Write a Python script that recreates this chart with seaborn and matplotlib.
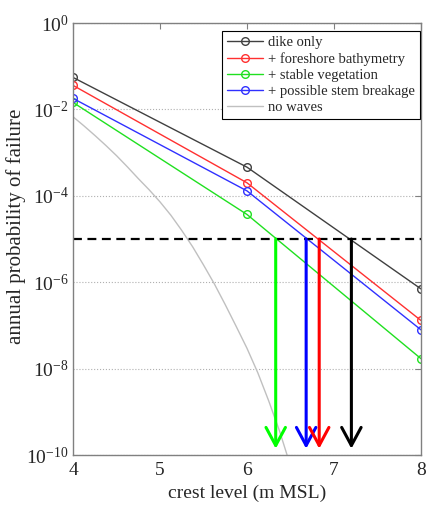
import numpy as np
import pandas as pd
import matplotlib
matplotlib.use("Agg")
import matplotlib.pyplot as plt
import seaborn as sns

# data
crest = [4, 6, 8]
dike_only = [5.5e-2, 4.6e-4, 7.0e-7]
foreshore = [3.6e-2, 2.0e-4, 1.3e-7]
stem_break = [1.8e-2, 1.3e-4, 7.9e-8]
stable_veg = [1.45e-2, 3.7e-5, 1.7e-8]

nowave_x = [4.0, 4.125, 4.25, 4.375, 4.5, 4.625, 4.75, 4.875, 5.0, 5.125,
            5.25, 5.375, 5.5, 5.625, 5.75, 5.875, 6.0, 6.125, 6.25, 6.375,
            6.5]
nowave_p = [6.76e-3, 4.17e-3, 2.51e-3, 1.48e-3, 8.51e-4, 4.68e-4, 2.51e-4,
            1.38e-4, 7.24e-5, 3.55e-5, 1.58e-5, 6.61e-6, 2.51e-6, 9.12e-7,
            3.02e-7, 9.55e-8, 2.95e-8, 7.94e-9, 1.78e-9, 3.55e-10, 5.6e-11]

target_p = 1e-5
arrow_x = [6.33, 6.68, 6.83, 7.20]
arrow_colors = ["#00ff00", "#0000ff", "#ff0000", "#000000"]

sns.set_style("white")
plt.rcParams["font.family"] = ["Liberation Serif", "DejaVu Serif"]
plt.rcParams["mathtext.fontset"] = "stix"

fig = plt.figure(figsize=(4.28, 5.08), dpi=100)
ax = fig.add_axes([0.1706, 0.1043, 0.813, 0.8504])

series = [
    ("dike only", dike_only, "#404040"),
    ("+ foreshore bathymetry", foreshore, "#ff3030"),
    ("+ stable vegetation", stable_veg, "#20e020"),
    ("+ possible stem breakage", stem_break, "#3030ff"),
]
for name, vals, c in series:
    sns.lineplot(x=crest, y=vals, ax=ax, color=c, lw=1.0, marker="o", ms=5.5,
                 mfc="none", mec=c, mew=1.0, label=name)

sns.lineplot(x=nowave_x, y=nowave_p, ax=ax, color="#c0c0c0", lw=1.0,
             label="no waves")

ax.plot([4, 8], [target_p, target_p], color="k", lw=1.6, dashes=(4, 2.5),
        label="_nolegend_")

for xa, c in zip(arrow_x, arrow_colors):
    ax.annotate("", xy=(xa, 1.4e-10), xytext=(xa, target_p),
                arrowprops=dict(arrowstyle="->,head_length=0.65,head_width=0.35",
                                color=c, lw=2.2, mutation_scale=20,
                                shrinkA=0, shrinkB=0))

ax.set_yscale("log")
ax.set_xlim(4, 8)
ax.set_ylim(1e-10, 1)
ax.set_xticks([4, 5, 6, 7, 8])
ax.set_yticks([1e0, 1e-2, 1e-4, 1e-6, 1e-8, 1e-10])
ax.minorticks_off()
ax.yaxis.grid(True, color="#b0b0b0", ls=":", lw=0.8)
ax.xaxis.grid(False)

ax.tick_params(direction="in", length=4, width=0.8, color="#808080",
               labelsize=14, top=True, right=True)
ax.tick_params(axis="y", pad=3)
ax.tick_params(axis="x", pad=5)
for sp in ax.spines.values():
    sp.set_color("#808080")
    sp.set_linewidth(1.0)

ax.set_xlabel("crest level (m MSL)", fontsize=14, labelpad=4)
ax.set_ylabel("annual probability of failure", fontsize=15)
ax.yaxis.set_label_coords(-0.135, 0.53)

leg = ax.legend(loc="upper right", bbox_to_anchor=(1.0, 0.985), fontsize=10.5,
                frameon=True, fancybox=False, edgecolor="black",
                framealpha=1, labelspacing=0.2, handlelength=2.5,
                handletextpad=0.3, borderpad=0.35, borderaxespad=0.1)
leg.get_frame().set_linewidth(0.8)

fig.savefig("out.png", dpi=100)
